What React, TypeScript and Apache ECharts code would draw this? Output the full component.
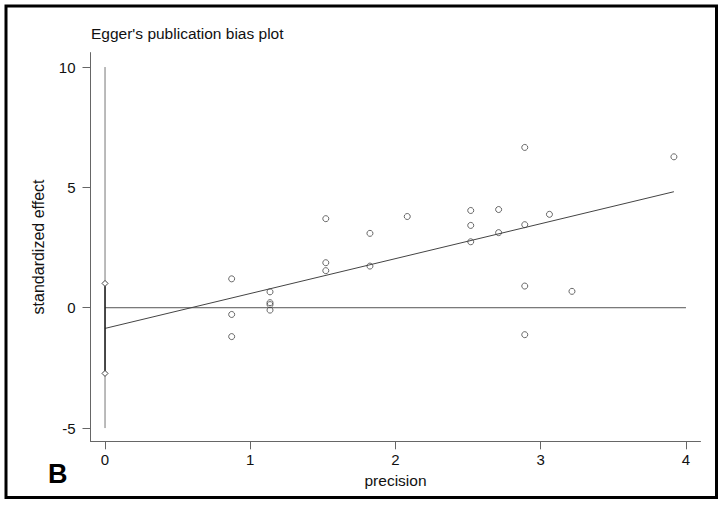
import React, { useEffect, useRef } from "react";
import * as echarts from "echarts";

const precision = [0.872, 0.872, 0.872, 1.136, 1.136, 1.136, 1.136, 1.52, 1.52, 1.52, 1.824, 1.824, 2.081, 2.518, 2.518, 2.518, 2.71, 2.71, 2.89, 2.89, 2.89, 2.89, 3.06, 3.215, 3.917];
const effect = [1.2, -0.28, -1.2, 0.66, 0.21, 0.13, -0.1, 3.7, 1.87, 1.54, 3.09, 1.73, 3.79, 4.04, 3.42, 2.74, 4.08, 3.12, 6.66, 3.45, 0.9, -1.12, 3.88, 0.68, 6.27];
const regX = [0, 3.917];
const regY = [-0.86, 4.82];
const ciY = [-2.73, 1.01];
const refVertY = [-5, 10];
const zeroLineX = [0, 4];
const xTicks = [0, 1, 2, 3, 4];
const yTicks = [-5, 0, 5, 10];

const FONT = "'Liberation Sans', Arial, Helvetica, sans-serif";
const LINE = "#555";

export default function App() {
  const ref = useRef<HTMLDivElement>(null);
  useEffect(() => {
    if (!ref.current) return;
    const chart = echarts.init(ref.current, null, { renderer: "svg" });
    chart.setOption({
      animation: false,
      backgroundColor: "#fff",
      grid: { left: 90.5, right: 23.5, top: 52.6, bottom: 63.7, containLabel: false },
      xAxis: {
        type: "value",
        min: -0.1,
        max: 4.1,
        name: "precision",
        nameLocation: "middle",
        nameGap: 24,
        nameTextStyle: { fontFamily: FONT, fontSize: 15.5, color: "#111" },
        axisLine: { show: true, onZero: false, lineStyle: { color: "#666", width: 1 } },
        axisTick: { show: true, length: 8, customValues: xTicks, lineStyle: { color: "#666" } },
        axisLabel: { customValues: xTicks, margin: 11, fontFamily: FONT, fontSize: 15, color: "#111" },
        splitLine: { show: false },
      },
      yAxis: {
        type: "value",
        min: -5.55,
        max: 10.6,
        name: "standardized effect",
        nameLocation: "middle",
        nameRotate: 90,
        nameGap: 44,
        nameTextStyle: { fontFamily: FONT, fontSize: 16, color: "#111" },
        axisLine: { show: true, onZero: false, lineStyle: { color: "#666", width: 1 } },
        axisTick: { show: true, length: 8, customValues: yTicks, lineStyle: { color: "#666" } },
        axisLabel: { customValues: yTicks, margin: 15, fontFamily: FONT, fontSize: 15, color: "#111" },
        splitLine: { show: false },
      },
      series: [
        {
          type: "line",
          data: refVertY.map((y) => [0, y]),
          symbol: "none",
          lineStyle: { color: "#777", width: 1 },
          z: 1,
        },
        {
          type: "line",
          data: zeroLineX.map((x) => [x, 0]),
          symbol: "none",
          lineStyle: { color: LINE, width: 1 },
          z: 1,
        },
        {
          type: "line",
          data: regX.map((x, i) => [x, regY[i]]),
          symbol: "none",
          lineStyle: { color: "#444", width: 1 },
          z: 2,
        },
        {
          type: "line",
          data: ciY.map((y) => [0, y]),
          symbol: "diamond",
          symbolSize: 6,
          showSymbol: true,
          itemStyle: { color: "#fff", borderColor: "#444", borderWidth: 1 },
          lineStyle: { color: "#222", width: 1.5 },
          z: 3,
        },
        {
          type: "scatter",
          data: precision.map((p, i) => [p, effect[i]]),
          symbol: "circle",
          symbolSize: 6,
          itemStyle: { color: "rgba(255,255,255,0)", borderColor: "#444", borderWidth: 1 },
          z: 4,
        },
      ],
      graphic: [
        {
          type: "rect",
          shape: { x: 6, y: 6, width: 710.5, height: 491.5 },
          style: { fill: "none", stroke: "#000", lineWidth: 3 },
          silent: true,
        },
        {
          type: "text",
          x: 91,
          y: 33,
          style: { text: "Egger's publication bias plot", fontFamily: FONT, fontSize: 15.5, fill: "#111", verticalAlign: "middle", align: "left" },
        },
        {
          type: "text",
          x: 48,
          y: 474,
          style: { text: "B", fontFamily: FONT, fontSize: 27, fontWeight: "bold", fill: "#000", verticalAlign: "middle", align: "left" },
        },
      ],
    });
    return () => chart.dispose();
  }, []);
  return <div ref={ref} style={{ position: "fixed", left: 0, top: 0, width: 724, height: 505 }} />;
}
